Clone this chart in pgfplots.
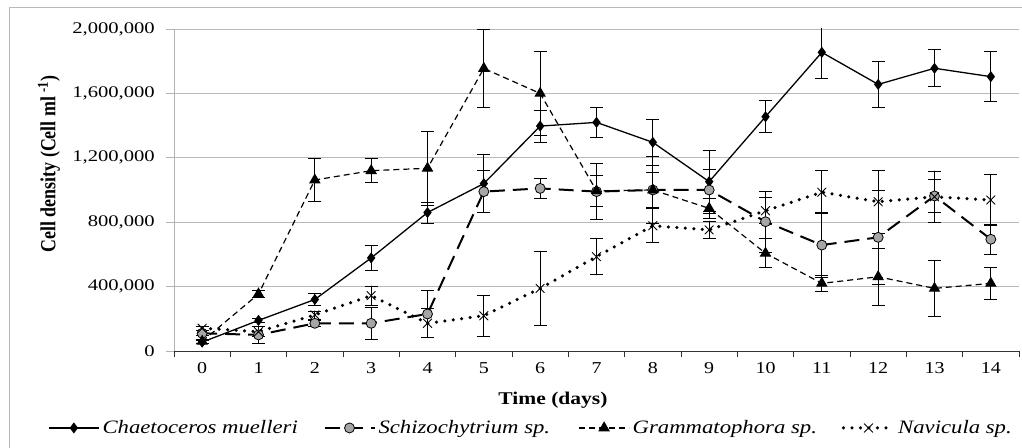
\documentclass[border=0pt]{standalone}
\usepackage{fontspec}
\setmainfont{Liberation Serif}[FakeStretch=1.2]
\newfontfamily\ytickfont{Liberation Serif}[FakeStretch=1.27]
\newfontfamily\ylabfont{Liberation Serif}[FakeStretch=0.833]
\usepackage{pgfplots}
\usepackage{pgfplotstable}
\pgfplotsset{compat=1.18}

% day, mean cell density, error
\pgfplotstableread{
day val err
0 55000 10000
1 190000 15000
2 320000 38000
3 578000 80000
4 860000 65000
5 1040000 180000
6 1397000 100000
7 1420000 96000
8 1296000 145000
9 1052000 196000
10 1455000 100000
11 1855000 160000
12 1656000 144000
13 1756000 115000
14 1704000 155000
}\chaet

\pgfplotstableread{
day val err
0 110000 15000
1 100000 55000
2 172000 20000
3 172000 100000
4 230000 145000
5 990000 130000
6 1010000 65000
7 990000 175000
8 1000000 110000
9 1000000 130000
10 803000 190000
11 658000 200000
12 706000 290000
13 963000 100000
14 694000 95000
}\schizo

\pgfplotstableread{
day val err
0 60000 10000
1 354000 20000
2 1062000 135000
3 1120000 75000
4 1135000 229000
5 1755000 245000
6 1600000 259000
7 995000 95000
8 1000000 210000
9 886000 60000
10 607000 90000
11 420000 52000
12 461000 175000
13 389000 175000
14 420000 100000
}\gramm

\pgfplotstableread{
day val err
0 141000 10000
1 120000 30000
2 224000 25000
3 344000 60000
4 172000 90000
5 219000 127000
6 389000 231000
7 586000 113000
8 778000 105000
9 752000 55000
10 871000 80000
11 986000 134000
12 927000 195000
13 958000 160000
14 938000 160000
}\navi

\pgfplotsset{
  ebar/.style={
    error bars/.cd, y dir=both, y explicit,
    error bar style={solid, black, line width=0.8bp},
    error mark options={rotate=90, mark size=6.5bp, solid, black, line width=0.8bp}
  }
}
\newcommand\legtext[2]{\hspace*{3bp}\makebox[#1][l]{#2}}

\begin{document}
\begin{tikzpicture}
\useasboundingbox (-174bp,-97bp) rectangle (848bp,351bp);
\draw[gray!55, line width=0.9bp] (-165bp,-97bp) -- (-165bp,344bp) -- (848bp,344bp);
\begin{axis}[
  at={(0,0)}, anchor=south west,
  scale only axis, width=845bp, height=322bp,
  xmin=-0.5, xmax=14.5, ymin=0, ymax=2000000,
  xtick={0,1,2,3,4,5,6,7,8,9,10,11,12,13,14},
  minor xtick={-0.5,0.5,1.5,2.5,3.5,4.5,5.5,6.5,7.5,8.5,9.5,10.5,11.5,12.5,13.5,14.5},
  ytick={0,400000,800000,1200000,1600000,2000000},
  scaled y ticks=false,
  /pgf/number format/.cd, fixed, 1000 sep={,}, assume math mode=true,
  /pgfplots/.cd,
  axis x line*=bottom, axis y line*=left,
  x axis line style={-, black!80, line width=0.9bp},
  y axis line style={-, gray!60, line width=0.9bp},
  tick align=outside,
  major tick length=8bp, minor tick length=6bp,
  major x tick style={draw=none},
  minor x tick style={black!80, line width=0.9bp},
  major y tick style={gray!60, line width=0.9bp},
  ymajorgrids, major grid style={gray!55, line width=0.9bp},
  xticklabel style={font=\fontsize{16.7}{18}\selectfont, inner sep=0pt, anchor=north, yshift=-3.5bp},
  yticklabel style={font=\ytickfont\fontsize{16.3}{18}\selectfont, inner sep=0pt, anchor=east, xshift=-11bp},
  xlabel={\textbf{Time (days)}},
  ylabel={\textbf{Cell density (Cell ml \textsuperscript{-1})}},
  x label style={font=\fontsize{18}{20}\selectfont, at={(axis description cs:0.4485,-0.152)}, anchor=center},
  y label style={font=\ylabfont\fontsize{21.6}{23}\selectfont, at={(axis description cs:-0.148,0.581)}, anchor=center},
  legend columns=4,
  legend style={at={(-0.1491,-0.239)}, anchor=west, draw=none, fill=none,
    inner sep=0pt, font=\itshape\fontsize{19}{21}\selectfont,
    nodes={inner xsep=0pt, inner ysep=2bp},
    /tikz/every even column/.append style={column sep=0pt}},
  legend cell align=left,
  legend image code/.code={\draw[mark repeat=2,mark phase=2,#1]
    plot coordinates {(0bp,0bp) (25bp,0bp) (50bp,0bp)};},
]
\addplot[black, line width=1.3bp, mark=diamond*, mark size=4.5bp,
  mark options={solid, fill=black}, ebar]
  table[x=day, y=val, y error=err] {\chaet};
\addlegendentry{\legtext{221bp}{Chaetoceros muelleri}}

\addplot[black, line width=2bp, dash pattern=on 15bp off 8bp,
  mark=*, mark size=5bp, mark options={solid, fill=gray!70, line width=0.8bp}, ebar]
  table[x=day, y=val, y error=err] {\schizo};
\addlegendentry{\legtext{200bp}{Schizochytrium sp.}}

\addplot[black, line width=1.2bp, dash pattern=on 6bp off 4bp,
  mark=triangle*, mark size=5.5bp, mark options={solid, fill=black}, ebar]
  table[x=day, y=val, y error=err] {\gramm};
\addlegendentry{\legtext{209bp}{Grammatophora sp.}}

\addplot[black, line width=3.5bp, line cap=round, dash pattern=on 0bp off 8.5bp,
  mark=x, mark size=6bp, mark options={solid, line width=0.9bp}, ebar]
  table[x=day, y=val, y error=err] {\navi};
\addlegendentry{\legtext{115bp}{Navicula sp.}}
\end{axis}
\end{tikzpicture}
\end{document}
